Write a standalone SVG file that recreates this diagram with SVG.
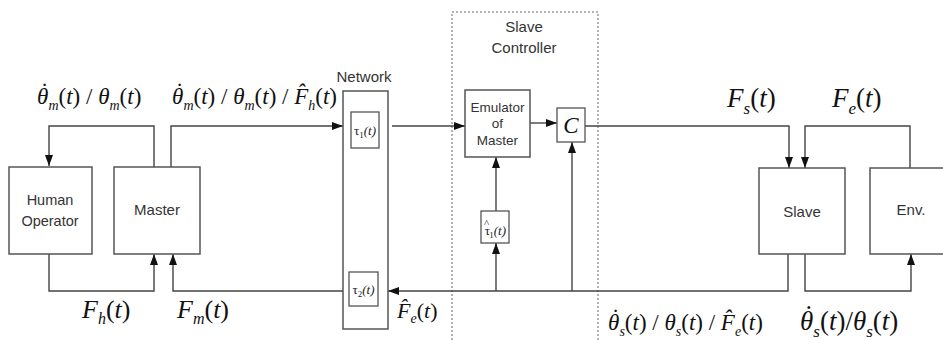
<svg xmlns="http://www.w3.org/2000/svg" width="943" height="340" viewBox="0 0 943 340">
<style>
.box{fill:#fff;stroke:#555;stroke-width:1.5}
.sbox{fill:#fff;stroke:#555;stroke-width:1.3}
.dot{fill:none;stroke:#666;stroke-width:1;stroke-dasharray:2,2}
.ln{fill:none;stroke:#444;stroke-width:1.4}
.t{font-family:"Liberation Sans",Arial,sans-serif;fill:#333;text-anchor:middle}
.m{font-family:"Liberation Serif","Times New Roman",serif;fill:#111}
.i{font-style:italic}
.tau{font-family:"Liberation Serif","Times New Roman",serif;font-size:13px;fill:#222}
</style>
<defs>
<marker id="ah" markerUnits="userSpaceOnUse" markerWidth="11" markerHeight="8" refX="11" refY="4" orient="auto">
<path d="M0,0 L11,4 L0,8 Z" fill="#111"/>
</marker>
</defs>
<rect width="943" height="340" fill="#fff"/>

<g id="slave-controller-frame">
<rect class="dot" x="452" y="12" width="146" height="340"/>
<text class="t" x="524" y="32" font-size="15">Slave</text>
<text class="t" x="524" y="53" font-size="15">Controller</text>
</g>

<g id="connectors">
<path class="ln" d="M154,167 V126 H49 V166" marker-end="url(#ah)"/>
<path class="ln" d="M171,167 V126 H343" marker-end="url(#ah)"/>
<path class="ln" d="M392,126 H465" marker-end="url(#ah)"/>
<path class="ln" d="M530,123 H557" marker-end="url(#ah)"/>
<path class="ln" d="M585,126 H789 V168" marker-end="url(#ah)"/>
<path class="ln" d="M910,168 V126 H805 V168" marker-end="url(#ah)"/>
<path class="ln" d="M805,254 V291 H911 V254" marker-end="url(#ah)"/>
<path class="ln" d="M788,254 V291 H388" marker-end="url(#ah)"/>
<path class="ln" d="M496,291 V243" marker-end="url(#ah)"/>
<path class="ln" d="M496,211 V157" marker-end="url(#ah)"/>
<path class="ln" d="M572,291 V142" marker-end="url(#ah)"/>
<path class="ln" d="M343,291 H173 V254" marker-end="url(#ah)"/>
<path class="ln" d="M49,254 V291 H154 V254" marker-end="url(#ah)"/>
</g>

<g id="human-operator">
<rect class="box" x="9" y="167" width="83" height="87"/>
<text class="t" x="50" y="205" font-size="14.5">Human</text>
<text class="t" x="50" y="226" font-size="14.5">Operator</text>
</g>

<g id="master">
<rect class="box" x="114" y="167" width="86" height="87"/>
<text class="t" x="157" y="215" font-size="15">Master</text>
</g>

<g id="network">
<text class="t" x="364" y="82" font-size="15">Network</text>
<rect class="box" x="343" y="91" width="45" height="238"/>
<rect class="sbox" x="351" y="112" width="28" height="36"/>
<text class="tau" x="365" y="135" text-anchor="middle">τ<tspan font-size="9" dy="3">1</tspan><tspan dy="-3" font-style="italic">(t)</tspan></text>
<rect class="sbox" x="349" y="272" width="29" height="34"/>
<text class="tau" x="363.5" y="294" text-anchor="middle">τ<tspan font-size="9" dy="3">2</tspan><tspan dy="-3" font-style="italic">(t)</tspan></text>
</g>

<g id="emulator">
<rect class="box" x="465" y="90" width="65" height="67"/>
<text class="t" x="497.5" y="112" font-size="13.5">Emulator</text>
<text class="t" x="497.5" y="128" font-size="13.5">of</text>
<text class="t" x="497.5" y="145" font-size="13.5">Master</text>
</g>

<g id="controller-c">
<rect class="sbox" x="557" y="108" width="28" height="34"/>
<text x="571" y="133" text-anchor="middle" font-family="Liberation Serif, serif" font-style="italic" font-size="23" fill="#111">C</text>
</g>

<g id="tau1-estimate">
<rect class="sbox" x="481" y="211" width="28" height="32"/>
<text class="tau" x="495" y="235" text-anchor="middle">τ<tspan dx="-6" dy="-8" font-size="11">^</tspan><tspan font-size="9" dx="0" dy="11">1</tspan><tspan dy="-3" font-style="italic">(t)</tspan></text>
</g>

<g id="slave">
<rect class="box" x="759" y="168" width="86" height="86"/>
<text class="t" x="802" y="217" font-size="15">Slave</text>
</g>

<g id="env">
<rect class="box" x="870" y="168" width="80" height="86"/>
<text class="t" x="911" y="215" font-size="15">Env.</text>
</g>

<g id="labels">
<text class="m" x="37" y="104" font-size="23"><tspan class="i">θ</tspan><tspan dx="-7.6" dy="-5">˙</tspan><tspan class="i" font-size="14" dy="10.5">m</tspan><tspan dy="-5.5">(</tspan><tspan class="i">t</tspan>) / <tspan class="i">θ</tspan><tspan class="i" font-size="14" dy="5.5">m</tspan><tspan dy="-5.5">(</tspan><tspan class="i">t</tspan>)</text>
<text class="m" x="172" y="104" font-size="23"><tspan class="i">θ</tspan><tspan dx="-7.6" dy="-5">˙</tspan><tspan class="i" font-size="14" dy="10.5">m</tspan><tspan dy="-5.5">(</tspan><tspan class="i">t</tspan>) / <tspan class="i">θ</tspan><tspan class="i" font-size="14" dy="5.5">m</tspan><tspan dy="-5.5">(</tspan><tspan class="i">t</tspan>) / <tspan class="i">F̂</tspan><tspan class="i" font-size="14" dy="5.5">h</tspan><tspan dy="-5.5">(</tspan><tspan class="i">t</tspan>)</text>
<text class="m" x="82" y="318" font-size="26"><tspan class="i">F</tspan><tspan class="i" font-size="16" dy="6">h</tspan><tspan dy="-6">(</tspan><tspan class="i">t</tspan>)</text>
<text class="m" x="177" y="318" font-size="26"><tspan class="i">F</tspan><tspan class="i" font-size="16" dy="6">m</tspan><tspan dy="-6">(</tspan><tspan class="i">t</tspan>)</text>
<text class="m" x="397" y="318" font-size="22"><tspan class="i">F̂</tspan><tspan class="i" font-size="14" dy="5">e</tspan><tspan dy="-5">(</tspan><tspan class="i">t</tspan>)</text>
<text class="m" x="608" y="330" font-size="23"><tspan class="i">θ</tspan><tspan dx="-7.6" dy="-5">˙</tspan><tspan class="i" font-size="14" dy="10.5">s</tspan><tspan dy="-5.5">(</tspan><tspan class="i">t</tspan>) / <tspan class="i">θ</tspan><tspan class="i" font-size="14" dy="5.5">s</tspan><tspan dy="-5.5">(</tspan><tspan class="i">t</tspan>) / <tspan class="i">F̂</tspan><tspan class="i" font-size="14" dy="5.5">e</tspan><tspan dy="-5.5">(</tspan><tspan class="i">t</tspan>)</text>
<text class="m" x="800" y="330" font-size="27"><tspan class="i">θ</tspan><tspan dx="-9" dy="-6">˙</tspan><tspan class="i" font-size="17" dy="12.5">s</tspan><tspan dy="-6.5">(</tspan><tspan class="i">t</tspan>)/<tspan class="i">θ</tspan><tspan class="i" font-size="17" dy="6.5">s</tspan><tspan dy="-6.5">(</tspan><tspan class="i">t</tspan>)</text>
<text class="m" x="727" y="107" font-size="27"><tspan class="i">F</tspan><tspan class="i" font-size="17" dy="6.5">s</tspan><tspan dy="-6.5">(</tspan><tspan class="i">t</tspan>)</text>
<text class="m" x="832" y="107" font-size="27"><tspan class="i">F</tspan><tspan class="i" font-size="17" dy="6.5">e</tspan><tspan dy="-6.5">(</tspan><tspan class="i">t</tspan>)</text>
</g>
</svg>
